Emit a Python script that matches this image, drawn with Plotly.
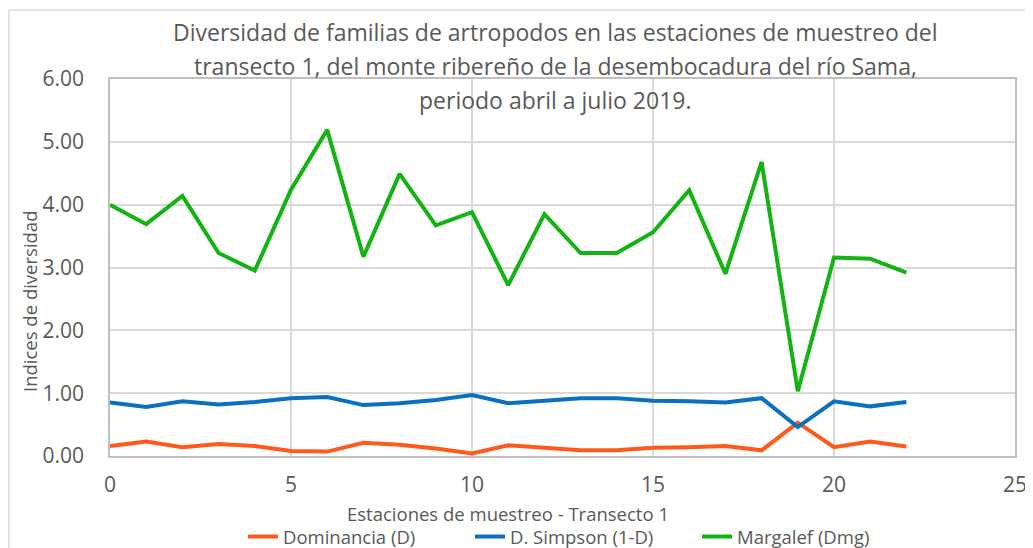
import plotly.graph_objects as go

estaciones = list(range(23))
dominancia = [0.16, 0.23, 0.14, 0.19, 0.16, 0.08, 0.07, 0.21, 0.18, 0.12, 0.04, 0.17,
              0.13, 0.09, 0.09, 0.13, 0.14, 0.16, 0.09, 0.53, 0.14, 0.23, 0.15]
simpson = [0.85, 0.78, 0.87, 0.82, 0.86, 0.92, 0.94, 0.81, 0.84, 0.89, 0.97, 0.84,
           0.88, 0.92, 0.92, 0.88, 0.87, 0.85, 0.92, 0.46, 0.87, 0.79, 0.86]
margalef = [4.00, 3.69, 4.14, 3.23, 2.95, 4.24, 5.19, 3.17, 4.49, 3.67, 3.88, 2.72,
            3.85, 3.23, 3.23, 3.56, 4.23, 2.90, 4.68, 1.03, 3.16, 3.14, 2.92]
series_names = ["Dominancia (D)", "D. Simpson (1-D)", "Margalef (Dmg)"]
colors = ["#FF5A1A", "#0A70C2", "#12B312"]
title_lines = [
    "Diversidad de familias de artropodos en las estaciones de muestreo del",
    "transecto 1, del monte ribereño de la desembocadura del río Sama,",
    "periodo abril a julio 2019.",
]

FONT = "Open Sans"
GREY = "#595959"

fig = go.Figure()
for name, vals, col in zip(series_names, [dominancia, simpson, margalef], colors):
    fig.add_trace(go.Scatter(x=estaciones, y=vals, mode="lines", name=name,
                             line=dict(color=col, width=4)))

# page body has an 8px margin, so the figure is offset by 8px on screen
OFF = 8
W, H = 1033 - OFF, 548 - OFF
L, R, T, B = 110 - OFF, 18, 79 - OFF, 548 - 456
pw, ph = W - L - R, H - T - B

def px(sx):
    return (sx - OFF - L) / pw

def py(sy):
    return (H - B - (sy - OFF)) / ph

annotations = []
for line, yy in zip(title_lines, [32, 66, 100]):
    annotations.append(dict(text=line, x=px(555), y=py(yy), xref="paper", yref="paper",
                            showarrow=False, xanchor="center", yanchor="middle",
                            font=dict(family=FONT, size=23, color=GREY)))
annotations.append(dict(text="Indices de diversidad", x=px(29), y=py(302), xref="paper",
                        yref="paper", showarrow=False, textangle=-90,
                        xanchor="center", yanchor="middle",
                        font=dict(family=FONT, size=18.5, color=GREY)))
annotations.append(dict(text="Estaciones de muestreo - Transecto 1", x=px(508), y=py(513),
                        xref="paper", yref="paper", showarrow=False,
                        xanchor="center", yanchor="middle",
                        font=dict(family=FONT, size=18.5, color=GREY)))

shapes = [
    dict(type="line", xref="paper", yref="paper", x0=px(9), x1=px(1045), y0=py(10), y1=py(10),
         line=dict(color="#D9D9D9", width=1.5)),
    dict(type="line", xref="paper", yref="paper", x0=px(9), x1=px(9), y0=py(10), y1=py(560),
         line=dict(color="#D9D9D9", width=1.5)),
]

fig.update_layout(
    width=W, height=H,
    margin=dict(l=L, r=R, t=T, b=B, autoexpand=False),
    paper_bgcolor="white", plot_bgcolor="white",
    font=dict(family=FONT, color=GREY),
    showlegend=True,
    legend=dict(orientation="h", x=px(243), xanchor="left", y=py(537), yanchor="middle",
                font=dict(family=FONT, size=18.5, color=GREY), entrywidth=182,
                bgcolor="rgba(0,0,0,0)"),
    annotations=annotations,
    shapes=shapes,
    xaxis=dict(range=[0, 25], dtick=5, tick0=0, showgrid=True, gridcolor="#D9D9D9",
               gridwidth=1.5, showline=True, linecolor="#BFBFBF", linewidth=1.5, mirror=True,
               zeroline=False, ticks="", tickfont=dict(family=FONT, size=21, color=GREY),
               ticklabelstandoff=9, automargin=False),
    yaxis=dict(range=[0, 6], dtick=1, tickformat=".2f", showgrid=True, gridcolor="#D9D9D9",
               gridwidth=1.5, showline=True, linecolor="#BFBFBF", linewidth=1.5, mirror=True,
               zeroline=False, ticks="", tickfont=dict(family=FONT, size=21, color=GREY),
               ticklabelstandoff=20, automargin=False),
)

fig.write_html("out.html")
